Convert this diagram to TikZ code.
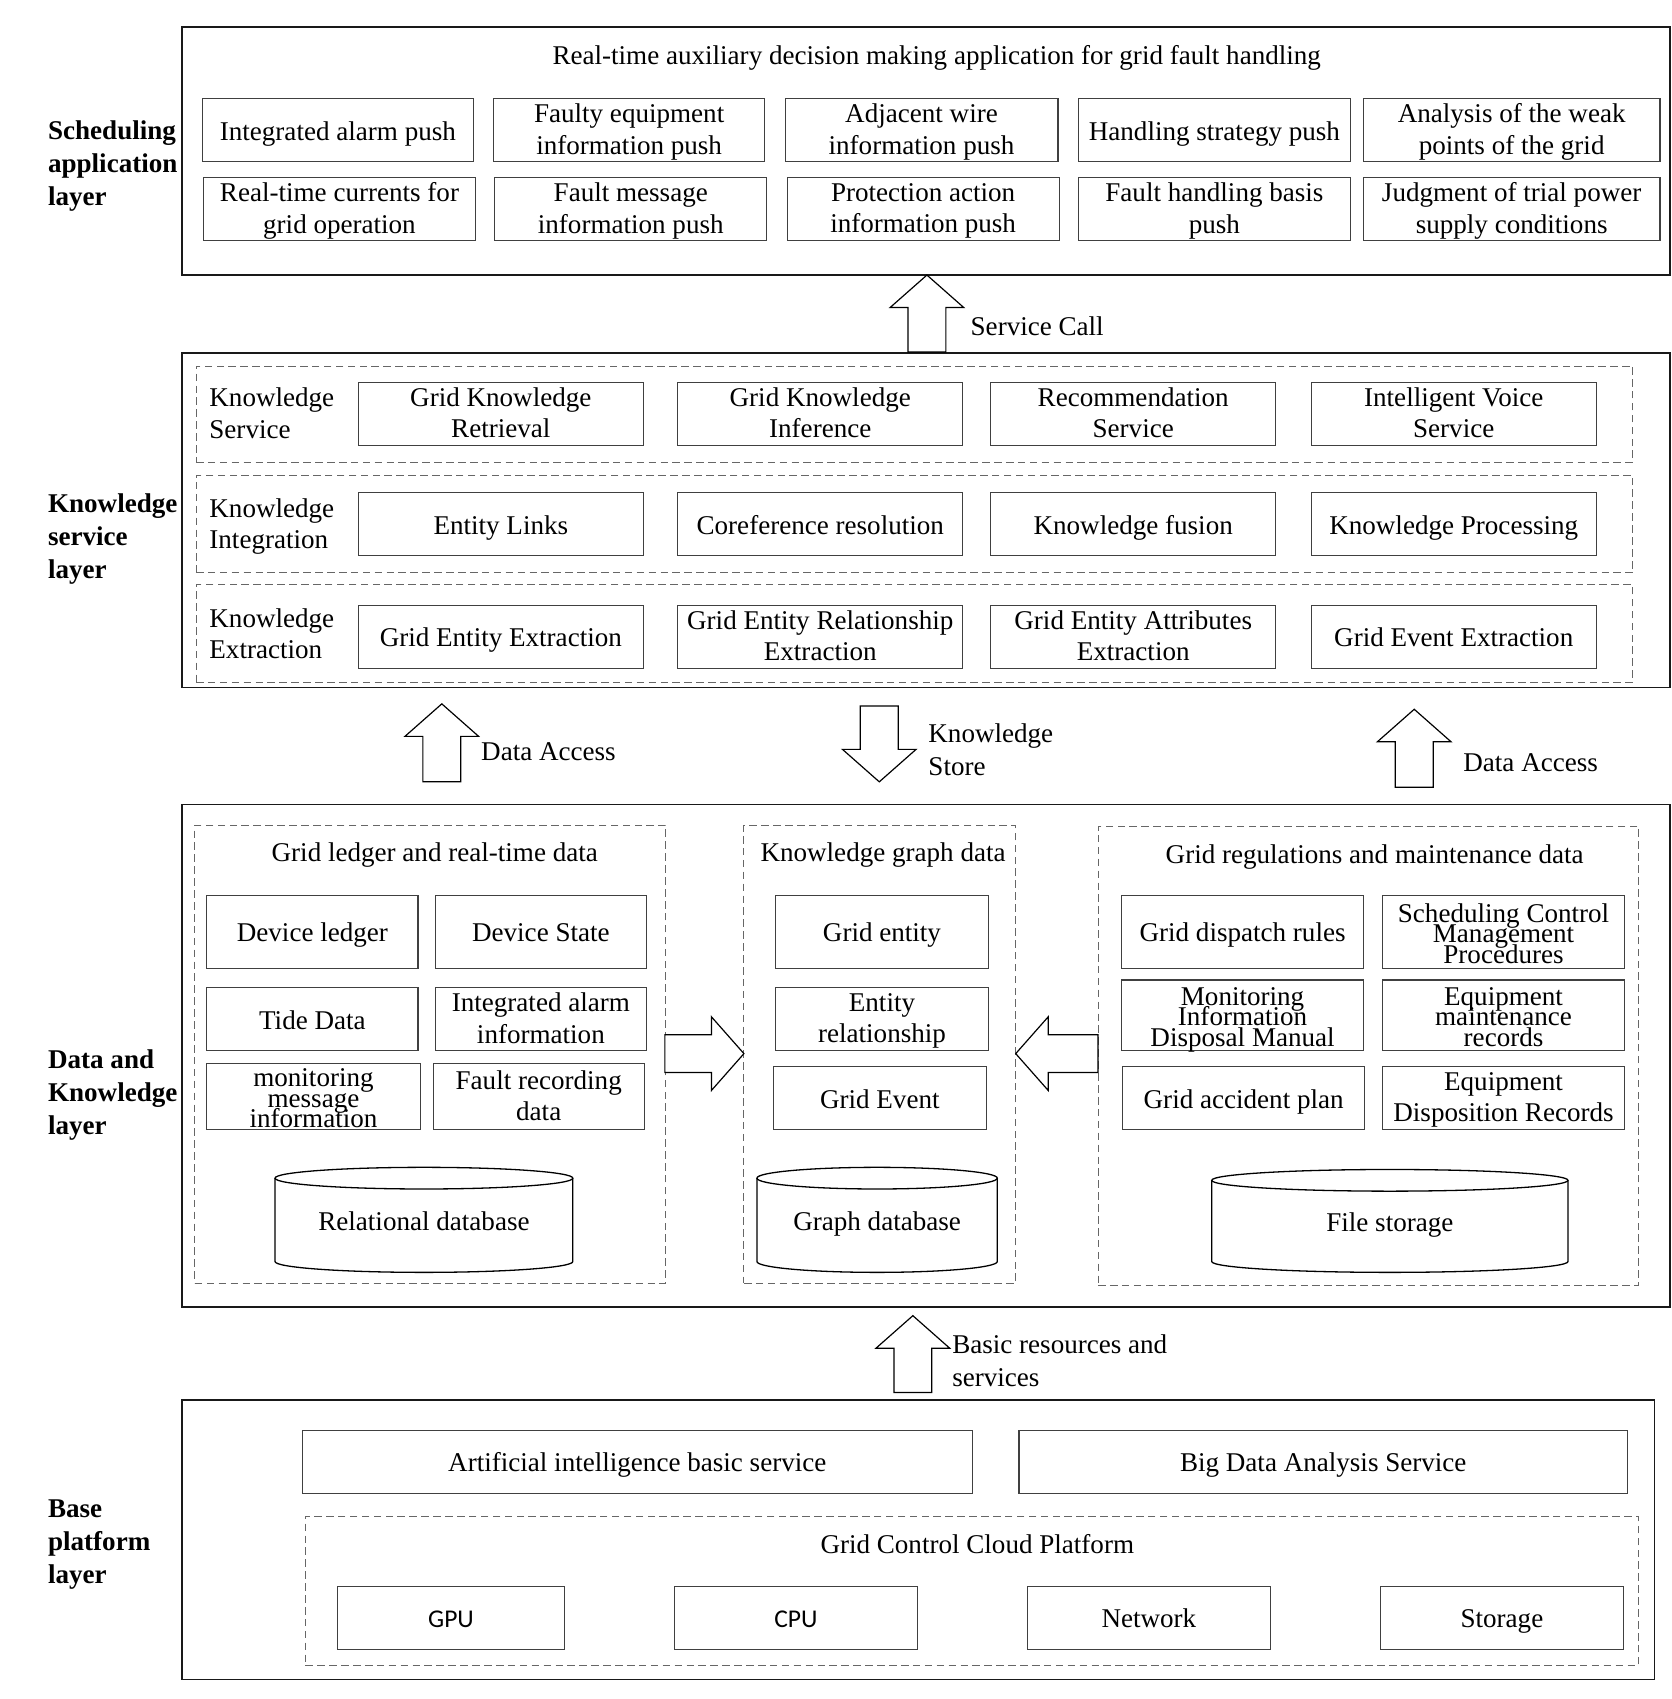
\documentclass[tikz,border=0pt]{standalone}
\usepackage{fontspec}
\setmainfont{Liberation Serif}
\newfontfamily\calfont{Carlito}
\protected\def\tightfont{\fontsize{12.5}{9.6}\selectfont\lineskiplimit=-50pt\relax}
% frame only: style, name, x1, y1, x2, y2
\newcommand\fbx[6]{\node[frm,#1,minimum width={(#5-#3)*0.5pt},minimum height={(#6-#4)*0.5pt}] (#2) at ({(#3+#5)/2},{(#4+#6)/2}) {};}
% box with text: [text style], name, x1, y1, x2, y2, text
\newcommand\bx[7][]{\node[frm,ibox,minimum width={(#5-#3)*0.5pt},minimum height={(#6-#4)*0.5pt}] (#2) at ({(#3+#5)/2},{(#4+#6)/2}) {};
  \node[txt,#1] (#2-t) at (#2.center) {#7};}
\newcommand\cylnode[6]{%
  \draw[cyl] ({(#2+#4)/2},#3) ellipse [x radius={(#4-#2)/2}, y radius=10];
  \draw[cyl] (#2,#3) -- (#2,#5) arc [start angle=180, end angle=0, x radius={(#4-#2)/2}, y radius=10] -- (#4,#3);
  \node[inner sep=0pt, execute at begin node=\strut, execute at end node=\strut] (#1) at ({(#2+#4)/2},{(#3+#5)/2+4}) {#6};}
% block arrow: name, tip x, tip y, rotation, total length
\newcommand\blkarrow[5]{%
  \coordinate (#1) at (#2,#3);
  \begin{scope}[shift={(#1)}, rotate=#4]
    \draw[barrow] (0,0) -- (-30,-34) -- (-30,-17.5) -- (-#5,-17.5) -- (-#5,17.5) -- (-30,17.5) -- (-30,34) -- cycle;
  \end{scope}}
\begin{document}
\begin{tikzpicture}[x=0.5pt,y=-0.5pt, font=\fontsize{12.5}{14.5}\selectfont,
 frm/.style={inner sep=0pt, outer sep=0pt},
 ibox/.style={draw=black!75, line width=0.5pt},
 obox/.style={draw=black!90, line width=0.8pt},
 dbox/.style={draw=black!60, line width=0.45pt, dash pattern=on 3.5pt off 2pt},
 txt/.style={inner sep=0pt, align=center, yshift=-1.75pt, execute at begin node=\strut, execute at end node=\strut},
 tight/.style={font=\tightfont, yshift=-0.5pt},
 barrow/.style={draw=black, line width=0.55pt, fill=white, line join=miter},
 lbl/.style={anchor=west, align=left, inner sep=0pt},
 lbltwo/.style={anchor=west, align=left, inner sep=0pt, font=\fontsize{12.5}{15.5}\selectfont},
 layer/.style={anchor=west, align=left, inner sep=0pt, font=\fontsize{12.5}{15.25}\selectfont\bfseries},
 cyl/.style={draw=black, line width=0.6pt},
 sans/.style={font=\calfont\fontsize{11.8}{14}\selectfont}
]
\useasboundingbox (0,0) rectangle (1544,1569);

% layer labels
\node[layer] (L1) at (44,153) {Scheduling\\application\\layer};
\node[layer] (L2) at (44,497.5) {Knowledge\\service\\layer};
\node[layer] (L3) at (44,1011) {Data and\\Knowledge\\layer};
\node[layer] (L4) at (44,1426.5) {Base\\platform\\layer};

% ---------- scheduling application layer
\fbx{obox}{app}{168}{25}{1542}{254}
\node (apptitle) at (865,53) {Real-time auxiliary decision making application for grid fault handling};
\bx{a11}{187}{91}{437}{149}{Integrated alarm push}
\bx{a12}{456}{91}{706}{149}{Faulty equipment\\information push}
\bx{a13}{725}{91}{977}{149}{Adjacent wire\\information push}
\bx{a14}{996}{91}{1247}{149}{Handling strategy push}
\bx{a15}{1259}{91}{1533}{149}{Analysis of the weak\\points of the grid}
\bx{a21}{188}{164}{439}{222}{Real-time currents for\\grid operation}
\bx{a22}{457}{164}{708}{222}{Fault message\\information push}
\bx{a23}{727}{164}{978}{222}{Protection action\\information push}
\bx{a24}{996}{164}{1247}{222}{Fault handling basis\\push}
\bx{a25}{1259}{164}{1533}{222}{Judgment of trial power\\supply conditions}

% ---------- knowledge service layer
\fbx{obox}{ks}{168}{326}{1542}{635}
\fbx{dbox}{ksr1}{181}{338}{1508}{427}
\fbx{dbox}{ksr2}{181}{439}{1508}{529}
\fbx{dbox}{ksr3}{181}{540}{1508}{630}
\node[lbl] (ksl1) at (193,381.5) {Knowledge\\Service};
\node[lbl] (ksl2) at (193,486.5) {Knowledge\\Integration};
\node[lbl] (ksl3) at (193,585.5) {Knowledge\\Extraction};
\bx{k11}{331}{353}{594}{411}{Grid Knowledge\\Retrieval}
\bx{k12}{626}{353}{889}{411}{Grid Knowledge\\Inference}
\bx{k13}{915}{353}{1178}{411}{Recommendation\\Service}
\bx{k14}{1211}{353}{1474}{411}{Intelligent Voice\\Service}
\bx{k21}{331}{455}{594}{513}{Entity Links}
\bx{k22}{626}{455}{889}{513}{Coreference resolution}
\bx{k23}{915}{455}{1178}{513}{Knowledge fusion}
\bx{k24}{1211}{455}{1474}{513}{Knowledge Processing}
\bx{k31}{331}{559}{594}{617}{Grid Entity Extraction}
\bx{k32}{626}{559}{889}{617}{Grid Entity Relationship\\Extraction}
\bx{k33}{915}{559}{1178}{617}{Grid Entity Attributes\\Extraction}
\bx{k34}{1211}{559}{1474}{617}{Grid Event Extraction}

% arrow between app and ks
\blkarrow{scA}{856}{254}{90}{71}
\node[lbl] (scL) at (896,301) {Service Call};

% ---------- data and knowledge layer
\fbx{obox}{dk}{168}{743}{1542}{1207}
\fbx{dbox}{g1}{180}{762}{615}{1185}
\fbx{dbox}{g2}{687}{762}{938}{1185}
\fbx{dbox}{g3}{1014}{763}{1513}{1187}
\node (g1t) at (401.5,790) {Grid ledger and real-time data};
\node (g2t) at (815.5,790) {Knowledge graph data};
\node (g3t) at (1269.5,791) {Grid regulations and maintenance data};

\bx{d11}{191}{827}{386}{894}{Device ledger}
\bx{d12}{402}{827}{597}{894}{Device State}
\bx{d21}{191}{912}{386}{970}{Tide Data}
\bx{d22}{402}{912}{597}{970}{Integrated alarm\\information}
\bx[tight]{d31}{191}{982}{388}{1043}{monitoring\\message\\information}
\bx{d32}{400}{982}{595}{1043}{Fault recording\\data}
\cylnode{rdb}{254}{1088}{529}{1165}{Relational database}

\bx{e1}{716}{827}{913}{894}{Grid entity}
\bx{e2}{716}{912}{913}{970}{Entity\\relationship}
\bx{e3}{714}{985}{911}{1043}{Grid Event}
\cylnode{gdb}{699}{1088}{921}{1165}{Graph database}

\bx{r11}{1036}{827}{1259}{894}{Grid dispatch rules}
\bx[tight]{r12}{1277}{827}{1500}{894}{Scheduling Control\\Management\\Procedures}
\bx[tight]{r21}{1036}{905}{1259}{970}{Monitoring\\Information\\Disposal Manual}
\bx[tight]{r22}{1277}{905}{1500}{970}{Equipment\\maintenance\\records}
\bx{r31}{1037}{985}{1260}{1043}{Grid accident plan}
\bx{r32}{1277}{985}{1500}{1043}{Equipment\\Disposition Records}
\cylnode{fst}{1119}{1090}{1448}{1165}{File storage}

% horizontal block arrows
\blkarrow{g1g2}{687}{973}{0}{73}
\blkarrow{g3g2}{938}{973}{180}{76}

% arrows between ks and dk
\blkarrow{da1}{408}{650}{90}{72}
\node[lbl] (da1L) at (444,694) {Data Access};
\blkarrow{kst}{812}{722}{-90}{70}
\node[lbltwo] (kstL) at (857,692.5) {Knowledge\\Store};
\blkarrow{da2}{1306}{655}{90}{72}
\node[lbl] (da2L) at (1351,704) {Data Access};

% ---------- base platform layer
\fbx{obox}{bp}{168}{1293}{1528}{1551}
\blkarrow{brA}{843}{1215}{90}{71}
\node[lbltwo] (brL) at (879,1256.5) {Basic resources and\\services};
\bx{b1}{279}{1321}{898}{1379}{Artificial intelligence basic service}
\bx{b2}{941}{1321}{1503}{1379}{Big Data Analysis Service}
\fbx{dbox}{cloud}{282}{1400}{1513}{1538}
\node (cloudt) at (902.5,1426) {Grid Control Cloud Platform};
\bx[sans]{gpu}{312}{1465}{521}{1523}{GPU}
\bx[sans]{cpu}{623}{1465}{847}{1523}{CPU}
\bx{net}{949}{1465}{1173}{1523}{Network}
\bx{sto}{1275}{1465}{1499}{1523}{Storage}
\end{tikzpicture}
\end{document}
